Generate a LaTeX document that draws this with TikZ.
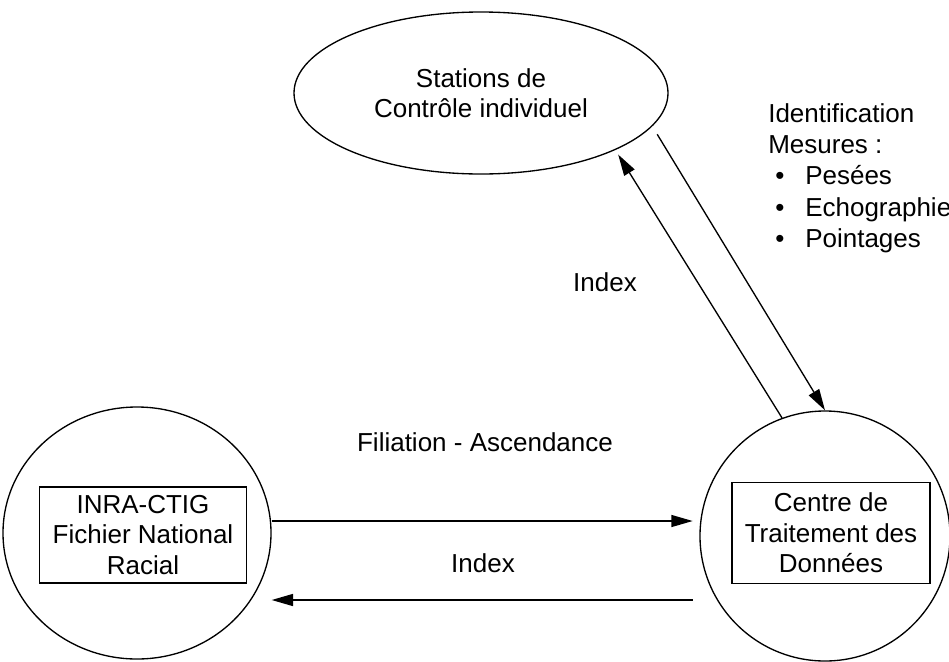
\documentclass[tikz,border=0pt]{standalone}
\usepackage{fontspec}
\setmainfont{Liberation Sans}
\usetikzlibrary{arrows.meta,positioning,shapes.geometric}

\tikzset{
  txt/.style={font=\fontsize{19.5}{22.9}\selectfont, align=center, inner sep=0pt},
  bulle/.style={draw, line width=1pt, ellipse, inner sep=0pt},
  cadre/.style={draw, line width=0.8pt, rectangle, txt},
  fleche/.style={-{Triangle[length=16pt,width=9pt]}, line width=1pt}
}

\begin{document}
\begin{tikzpicture}[x=0.75pt,y=-0.75pt]
\useasboundingbox (0,0) rectangle (949,661);
\node[bulle, txt, minimum width=280.5pt, minimum height=121.5pt] (stations) at (481,93) {Stations de\\Contrôle individuel};
\node[bulle, minimum width=201pt, minimum height=189pt] (fnr) at (137,533) {};
\node[bulle, circle, minimum size=187.5pt] (ctd) at (825,536) {};
\node[cadre, minimum width=155.25pt, minimum height=72pt] (fnrtxt) at (143,535) {INRA-CTIG\\Fichier National\\Racial};
\node[cadre, minimum width=148.5pt, minimum height=75.75pt] (ctdtxt) at (831,533) {Centre de\\Traitement des\\Données};

\node[txt, align=left, anchor=north west, font=\fontsize{19.5}{23.5}\selectfont] (mesures) at (768,103)
  {Identification\\Mesures :\\
   \makebox[27.75pt][l]{\hspace{5.25pt}\textbullet}Pesées\\
   \makebox[27.75pt][l]{\hspace{5.25pt}\textbullet}Echographie\\
   \makebox[27.75pt][l]{\hspace{5.25pt}\textbullet}Pointages};

\node[txt] (indexhaut) at (605,282) {Index};
\node[txt] (filiation) at (485,442) {Filiation - Ascendance};
\node[txt] (indexbas) at (483,563) {Index};

\draw[fleche, shorten >=4pt] (ctd.110) -- (stations.-23);
\draw[fleche, shorten <=7pt] (stations.-11) -- (ctd.north);
\draw[fleche, shorten >=5pt] (fnr.east |- 0,521) -- (ctd.west |- 0,521);
\draw[fleche, shorten <=5pt] (ctd.west |- 0,600) -- (fnr.east |- 0,600);
\end{tikzpicture}
\end{document}
